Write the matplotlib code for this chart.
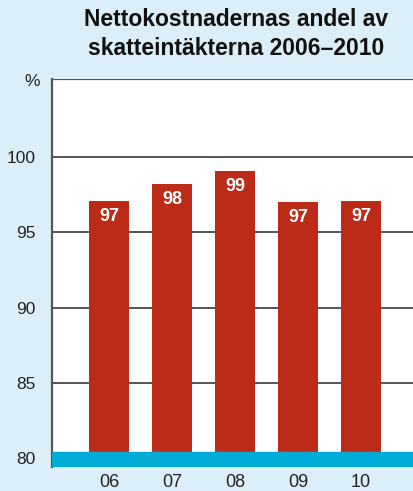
import matplotlib
matplotlib.use("Agg")
import matplotlib.pyplot as plt

years = ["06", "07", "08", "09", "10"]
values = [97.1, 98.2, 99.1, 97.0, 97.1]
labels = ["97", "98", "99", "97", "97"]
yticks = [80, 85, 90, 95, 100]
title = "Nettokostnadernas andel av\nskatteintäkterna 2006–2010"

bg = "#dceef7"
red = "#bb2b18"
cyan = "#00acd6"
grid = "#555555"

plt.rcParams['font.family'] = ['Liberation Sans', 'DejaVu Sans']

fig = plt.figure(figsize=(4.14, 4.91), dpi=100, facecolor=bg)
ax = fig.add_axes([52/414, (491-467)/491, (414-52)/414, (467-79)/491])
ax.set_facecolor("white")

ymin, ymax = 79.4, 105.2
ax.set_ylim(ymin, ymax)
x = list(range(len(years)))
ax.set_xlim(-0.905, 4.84)

for yv in yticks[1:]:
    ax.axhline(yv, color=grid, lw=1.4, zorder=1)
ax.axhline(ymax, color=grid, lw=1.6, zorder=1)

ax.bar(x, [v - ymin for v in values], bottom=ymin, width=0.635, color=red, zorder=2)
ax.axhspan(ymin, 80.4, color=cyan, zorder=3)

for xi, v, lab in zip(x, values, labels):
    ax.text(xi, v - 0.45, lab, ha="center", va="top", color="white",
            fontsize=13, fontweight="bold", zorder=4)

for s in ["top", "right", "bottom"]:
    ax.spines[s].set_visible(False)
ax.spines["left"].set_color(grid)
ax.spines["left"].set_linewidth(1.6)

ax.set_yticks(yticks)
ax.set_yticklabels([str(t) for t in yticks], fontsize=12.5, color="#222222")
ax.tick_params(axis="y", length=0, pad=12)
ax.set_xticks(x)
ax.set_xticklabels(years, fontsize=13, color="#222222")
ax.tick_params(axis="x", length=0, pad=5)

fig.text(40/414, 1 - 82/491, "%", ha="right", va="center", fontsize=12.5, color="#222222")
fig.text(236/414, 1 - 34/491, title, ha="center", va="center", fontsize=16.5,
         fontweight="bold", color="#111111", linespacing=1.3)

fig.savefig("out.png", dpi=100, facecolor=bg)
